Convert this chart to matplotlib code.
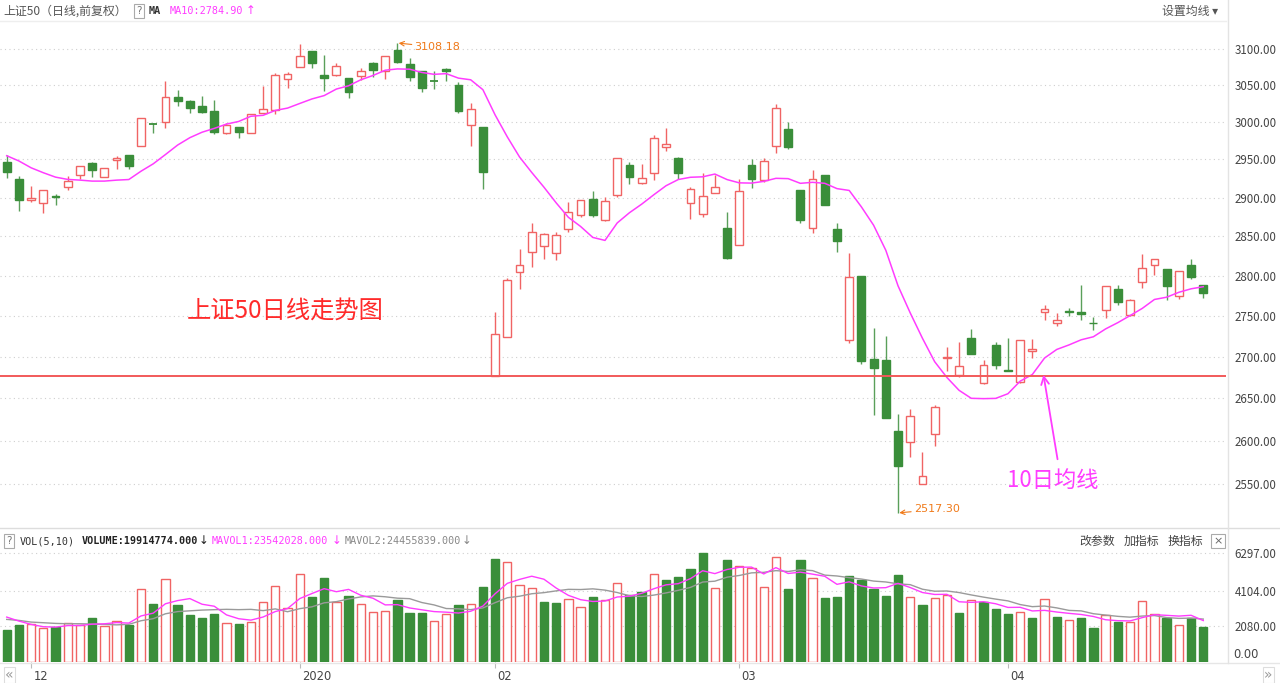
import matplotlib
matplotlib.use('Agg')
import matplotlib.pyplot as plt
import numpy as np
from matplotlib.lines import Line2D
from matplotlib.ticker import FixedLocator, NullLocator, FixedFormatter

plt.rcParams['font.family'] = ['Noto Sans CJK SC', 'DejaVu Sans']

# ---------------- data (SSE 50 daily, 2019-11-28 .. 2020-04-24) ----------------
opens = [2946.0, 2923.7, 2896.2, 2892.3, 2902.6, 2913.2, 2929.0, 2944.7, 2926.3, 2948.7,
         2955.3, 2968.4, 2998.0, 3000.0, 3033.3, 3027.8, 3022.2, 3015.3, 2985.5, 2993.4,
         2985.5, 3012.5, 3016.7, 3058.1, 3075.7, 3097.3, 3063.5, 3063.9, 3059.5, 3062.2,
         3081.1, 3068.9, 3098.6, 3079.7, 3069.3, 3056.1, 3071.6, 3050.4, 2996.0, 2993.8,
         2676.6, 2724.3, 2804.2, 2830.4, 2837.6, 2828.2, 2859.9, 2877.3, 2898.7, 2871.0,
         2903.0, 2942.1, 2918.4, 2932.5, 2967.1, 2951.3, 2892.3, 2878.2, 2905.3, 2861.2,
         2838.5, 2942.1, 2922.4, 2968.4, 2990.4, 2909.6, 2861.2, 2929.0, 2859.9, 2719.8,
         2800.1, 2697.6, 2696.4, 2611.9, 2598.5, 2549.7, 2608.0, 2698.8, 2677.4, 2722.9,
         2667.9, 2714.6, 2684.5, 2669.0, 2707.5, 2755.2, 2741.8, 2756.2, 2755.2, 2741.5,
         2757.5, 2783.8, 2751.3, 2791.6, 2814.1, 2808.6, 2775.0, 2814.1, 2788.8]
highs = [2955.3, 2927.6, 2914.5, 2910.5, 2904.0, 2927.6, 2940.8, 2946.0, 2938.2, 2954.0,
         2955.3, 3005.6, 2998.6, 3055.4, 3043.0, 3030.5, 3034.7, 3029.2, 2998.7, 2993.4,
         3011.1, 3048.6, 3066.2, 3067.6, 3106.8, 3097.3, 3091.9, 3081.1, 3059.5, 3073.0,
         3082.4, 3090.5, 3108.18, 3087.8, 3069.3, 3069.3, 3073.0, 3054.1, 3026.4, 2993.8,
         2755.2, 2797.1, 2834.2, 2867.6, 2854.7, 2856.0, 2894.5, 2896.5, 2908.3, 2900.4,
         2951.3, 2946.0, 2943.4, 2982.0, 2991.7, 2953.0, 2913.6, 2931.6, 2929.0, 2881.2,
         2923.7, 2950.0, 2951.3, 3024.6, 2999.6, 2909.6, 2935.5, 2929.0, 2867.6, 2828.2,
         2800.1, 2735.0, 2725.6, 2630.9, 2636.9, 2586.4, 2642.0, 2711.6, 2717.4, 2734.2,
         2696.4, 2717.4, 2722.9, 2720.8, 2721.6, 2762.9, 2754.0, 2760.0, 2787.9, 2749.1,
         2786.6, 2788.8, 2770.9, 2826.9, 2820.5, 2808.6, 2805.5, 2821.3, 2788.8]
lows = [2925.0, 2882.0, 2893.6, 2879.5, 2889.7, 2909.2, 2923.7, 2926.3, 2926.3, 2936.8,
        2936.8, 2968.4, 2985.5, 2992.1, 3022.2, 3012.5, 3012.5, 2984.2, 2984.2, 2979.0,
        2985.5, 3012.5, 3011.1, 3045.8, 3075.7, 3074.3, 3041.7, 3062.2, 3031.9, 3056.7,
        3060.8, 3058.1, 3081.1, 3055.4, 3040.7, 3044.4, 3055.4, 3012.5, 2967.5, 2911.8,
        2676.6, 2724.3, 2783.4, 2811.1, 2821.3, 2819.5, 2855.5, 2874.7, 2874.4, 2869.6,
        2900.4, 2917.1, 2917.1, 2922.8, 2961.0, 2923.7, 2872.7, 2875.2, 2905.3, 2820.5,
        2838.5, 2912.7, 2920.7, 2958.8, 2964.1, 2867.6, 2854.7, 2889.7, 2830.4, 2717.0,
        2691.7, 2629.8, 2627.0, 2517.3, 2581.0, 2549.7, 2594.2, 2683.3, 2675.8, 2703.7,
        2666.7, 2685.3, 2682.5, 2667.9, 2698.4, 2745.1, 2737.8, 2750.0, 2745.1, 2732.9,
        2747.2, 2763.8, 2750.0, 2784.6, 2801.3, 2770.0, 2770.9, 2795.8, 2772.3]
closes = [2932.9, 2896.2, 2900.0, 2910.5, 2901.3, 2921.0, 2940.8, 2935.5, 2938.2, 2951.3,
          2940.8, 3005.6, 2997.4, 3033.3, 3027.8, 3019.4, 3013.9, 2986.8, 2996.0, 2986.8,
          3011.1, 3018.1, 3063.5, 3064.9, 3090.5, 3081.1, 3059.5, 3076.1, 3040.7, 3068.9,
          3070.3, 3090.5, 3081.5, 3060.8, 3045.8, 3055.4, 3068.9, 3014.3, 3018.1, 2933.3,
          2727.7, 2795.0, 2814.1, 2856.0, 2852.6, 2851.3, 2881.7, 2896.5, 2877.3, 2895.3,
          2951.3, 2926.7, 2925.0, 2978.9, 2970.3, 2932.5, 2911.4, 2902.6, 2913.6, 2822.6,
          2908.3, 2923.7, 2947.4, 3019.0, 2966.2, 2871.0, 2924.6, 2889.7, 2844.0, 2798.8,
          2694.4, 2686.5, 2627.0, 2571.0, 2628.9, 2559.7, 2640.1, 2700.0, 2689.3, 2703.7,
          2690.5, 2689.5, 2682.5, 2720.8, 2709.4, 2758.4, 2744.3, 2755.0, 2752.0, 2740.7,
          2786.6, 2766.6, 2769.1, 2809.9, 2820.5, 2786.6, 2805.5, 2798.4, 2778.4]
# volume in units of 10k lots
volumes = [1824, 2112, 2170, 1939, 2016, 2266, 2131, 2554, 2054, 2362,
           2131, 4186, 3360, 4762, 3283, 2707, 2554, 2784, 2266, 2170,
           2304, 3456, 4358, 3130, 5050, 3763, 4858, 3475, 3802, 3360,
           2899, 2938, 3552, 2842, 2827, 2385, 2769, 3308, 3346, 4327,
           5942, 5769, 4442, 4269, 3461, 3404, 3654, 3192, 3750, 3596,
           4558, 3885, 4019, 5077, 4723, 4896, 5338, 6297, 4243, 5914,
           5530, 5395, 4320, 6067, 4224, 5914, 4819, 3706, 3744, 4954,
           4723, 4224, 3802, 4992, 3744, 3283, 3667, 3840, 2842, 3571,
           3475, 3072, 2784, 2880, 2515, 3648, 2592, 2400, 2554, 1939,
           2707, 2323, 2323, 3514, 2784, 2515, 2112, 2554, 1991]
first_vol_up = False
# moving-average values at the start of the window (earlier days are off-chart)
ma10_head = [2955.0, 2948.0, 2939.0, 2932.5, 2926.7, 2923.7, 2922.8, 2921.5, 2921.5]
mavol5_head = [2592, 2362, 2170, 2035]
mavol10_head = [2458, 2400, 2304, 2266, 2227, 2208, 2208, 2189, 2170]

month_labels = ['12', '2020', '02', '03', '04']
month_start_idx = [2, 24, 40, 60, 82]
price_ticks = [2550, 2600, 2650, 2700, 2750, 2800, 2850, 2900, 2950, 3000, 3050, 3100]
vol_ticks = [2080, 4104, 6297]
support_level = 2676.6
high_idx, low_idx = 32, 73

# ---------------- styles ----------------
RED = '#f06464'
GREEN = '#3a8e3a'
GREEN_WICK = '#5a9f5a'
MAG = '#ff3cff'
GRAY_MA = '#9a9a9a'
W, H = 1280, 683

def fx(x):
    return x / W

def fy(y):
    return 1 - y / H

n = len(closes)
idx = np.arange(n)
o = np.array(opens); c = np.array(closes); hi = np.array(highs); lo = np.array(lows)
v = np.array(volumes, dtype=float)

def rolling(arr, k, head):
    out = np.empty(len(arr))
    out[:len(head)] = head
    for i in range(len(head), len(arr)):
        out[i] = arr[i - k + 1:i + 1].mean()
    return out

ma10 = rolling(c, 10, ma10_head)
mavol5 = rolling(v, 5, mavol5_head)
mavol10 = rolling(v, 10, mavol10_head)

up = c >= o
vol_up = np.concatenate([[first_vol_up], c[1:] >= c[:-1]])

fig = plt.figure(figsize=(12.8, 6.83), dpi=100)
fig.patch.set_facecolor('white')

dx = 12.21
x0 = 6.7
right_px = 1226
xl = (-x0 / dx, (right_px - x0) / dx)

# ---------------- price panel ----------------
ax = fig.add_axes([0, fy(527), right_px / W, (527 - 22) / H])
ax.set_yscale('log')
ax.set_xlim(*xl)
ax.set_ylim(2501.3, 3137.8)
for s in ax.spines.values():
    s.set_visible(False)
ax.yaxis.set_major_locator(FixedLocator(price_ticks))
ax.yaxis.set_minor_locator(NullLocator())
ax.yaxis.set_major_formatter(FixedFormatter(['%.2f' % t for t in price_ticks]))
ax.yaxis.tick_right()
ax.tick_params(axis='y', length=0, pad=6, labelsize=8.3, labelcolor='#444444')
ax.set_xticks([])
ax.grid(axis='y', linestyle=(0, (1, 3)), color='#cfcfcf', lw=0.8)
ax.set_axisbelow(True)

bw = 0.64
for i in range(n):
    col = RED if up[i] else GREEN
    ax.vlines(i, lo[i], hi[i], color=RED if up[i] else GREEN_WICK, lw=1.0, zorder=2)
    b0, b1 = min(o[i], c[i]), max(o[i], c[i])
    if b1 - b0 < 0.8:
        ax.hlines((b0 + b1) / 2, i - bw / 2, i + bw / 2, color=col, lw=1.3, zorder=3)
    else:
        ax.bar(i, b1 - b0, bottom=b0, width=bw,
               facecolor='white' if up[i] else GREEN,
               edgecolor=col, lw=1.0, zorder=3)

ax.plot(idx, ma10, color=MAG, lw=1.1, zorder=4)
ax.axhline(support_level, color='#f25a5a', lw=1.4, zorder=5)

ax.annotate('%.2f' % hi[high_idx], xy=(high_idx + 0.1, hi[high_idx]),
            xytext=(high_idx + 1.4, hi[high_idx] * 0.9982),
            fontsize=8, color='#f07a1a', family='DejaVu Sans', va='center', ha='left',
            arrowprops=dict(arrowstyle='->', color='#f07a1a', lw=0.8, shrinkA=0, shrinkB=0))
ax.annotate('%.2f' % lo[low_idx], xy=(low_idx + 0.1, lo[low_idx]),
            xytext=(low_idx + 1.3, lo[low_idx] * 1.0015),
            fontsize=8, color='#f07a1a', family='DejaVu Sans', va='center', ha='left',
            arrowprops=dict(arrowstyle='->', color='#f07a1a', lw=0.8, shrinkA=0, shrinkB=0))

fig.text(fx(285), fy(311), '上证50日线走势图', color='#ff2a2a', fontsize=17.5,
         ha='center', va='center')
fig.text(fx(1053), fy(480), '10日均线', color=MAG, fontsize=16,
         ha='center', va='center')
fig.add_artist(matplotlib.patches.FancyArrowPatch(
    (fx(1058), fy(462)), (fx(1043), fy(372)), transform=fig.transFigure,
    arrowstyle='->', mutation_scale=14, color=MAG, lw=1.3))

# ---------------- volume panel ----------------
axv = fig.add_axes([0, fy(662), right_px / W, (662 - 530) / H])
axv.set_xlim(*xl)
axv.set_ylim(0, 132 * 57.7)
for s in axv.spines.values():
    s.set_visible(False)
axv.yaxis.set_major_locator(FixedLocator(vol_ticks))
axv.yaxis.set_major_formatter(FixedFormatter(['%.2f' % t for t in vol_ticks]))
axv.yaxis.tick_right()
axv.tick_params(axis='y', length=0, pad=6, labelsize=8.3, labelcolor='#444444')
axv.grid(axis='y', linestyle=(0, (1, 3)), color='#cfcfcf', lw=0.8)
axv.set_axisbelow(True)
vb = 0.68
for i in range(n):
    if vol_up[i]:
        axv.bar(i, v[i], width=vb, facecolor='white', edgecolor=RED, lw=1.0, zorder=2)
    else:
        axv.bar(i, v[i], width=vb, facecolor=GREEN, edgecolor=GREEN, lw=1.0, zorder=2)
axv.plot(idx, mavol10, color=GRAY_MA, lw=1.0, zorder=3)
axv.plot(idx, mavol5, color=MAG, lw=1.0, zorder=4)
axv.set_xticks(month_start_idx)
axv.set_xticklabels([])
axv.tick_params(axis='x', length=4, color='#bbbbbb', width=0.8)
for m, lab in zip(month_start_idx, month_labels):
    axv.text(m + 0.18, -0.06, lab, transform=axv.get_xaxis_transform(),
             ha='left', va='top', fontsize=8.3, color='#444444', family='DejaVu Sans')
fig.text(fx(1233), fy(655), '0.00', fontsize=8.3, color='#444444', va='center',
         ha='left', family='DejaVu Sans')

# ---------------- frame lines ----------------
fig.add_artist(Line2D([0, fx(1226)], [fy(21), fy(21)], color='#eeeeee', lw=1))
fig.add_artist(Line2D([0, 1], [fy(528), fy(528)], color='#dddddd', lw=1))
fig.add_artist(Line2D([0, 1], [fy(663), fy(663)], color='#e6e6e6', lw=1))
fig.add_artist(Line2D([fx(1228), fx(1228)], [fy(0), fy(663)], color='#e3e3e3', lw=1))

# ---------------- header texts ----------------
hy = fy(11)
fig.text(fx(3), hy, '上证50（日线,前复权）', fontsize=8.6, color='#555555', va='center')
box = dict(boxstyle='square,pad=0.2', fc='white', ec='#aaaaaa', lw=0.8)
fig.text(fx(136), hy, '?', fontsize=7.5, color='#777777', va='center', bbox=box,
         family='DejaVu Sans')
fig.text(fx(149), hy, 'MA', fontsize=7.3, color='#333333', va='center',
         family='DejaVu Sans Mono', weight='bold')
fig.text(fx(170), hy, 'MA10:2784.90', fontsize=7.3, color=MAG, va='center',
         family='DejaVu Sans Mono')
fig.text(fx(246), hy, '↑', fontsize=8.5, color=MAG, va='center', family='DejaVu Sans')
fig.text(fx(1218), hy, '设置均线 ▾', fontsize=8.6, color='#555555', va='center', ha='right')

vy = fy(541)
fig.text(fx(6), vy, '?', fontsize=7.5, color='#777777', va='center', bbox=box,
         family='DejaVu Sans')
fig.text(fx(20), vy, 'VOL(5,10)', fontsize=7.3, color='#333333', va='center',
         family='DejaVu Sans Mono')
fig.text(fx(82), vy, 'VOLUME:19914774.000', fontsize=7.3, color='#222222', va='center',
         family='DejaVu Sans Mono', weight='bold')
fig.text(fx(199), vy, '↓', fontsize=8.5, color='#222222', va='center', family='DejaVu Sans')
fig.text(fx(212), vy, 'MAVOL1:23542028.000', fontsize=7.3, color=MAG, va='center',
         family='DejaVu Sans Mono')
fig.text(fx(332), vy, '↓', fontsize=8.5, color=MAG, va='center', family='DejaVu Sans')
fig.text(fx(345), vy, 'MAVOL2:24455839.000', fontsize=7.3, color='#888888', va='center',
         family='DejaVu Sans Mono')
fig.text(fx(462), vy, '↓', fontsize=8.5, color='#888888', va='center', family='DejaVu Sans')
fig.text(fx(1079), vy, '改参数', fontsize=8.6, color='#444444', va='center')
fig.text(fx(1124), vy, '加指标', fontsize=8.6, color='#444444', va='center')
fig.text(fx(1168), vy, '换指标', fontsize=8.6, color='#444444', va='center')
fig.text(fx(1213), vy, '×', fontsize=8, color='#666666', va='center', bbox=box,
         family='DejaVu Sans')

fig.text(fx(5), fy(675), '«', fontsize=10, color='#999999', va='center',
         bbox=dict(boxstyle='square,pad=0.1', fc='white', ec='#dddddd', lw=0.8),
         family='DejaVu Sans')
fig.text(fx(1264), fy(675), '»', fontsize=10, color='#999999', va='center',
         bbox=dict(boxstyle='square,pad=0.1', fc='white', ec='#dddddd', lw=0.8),
         family='DejaVu Sans')

fig.savefig('out.png', dpi=100, facecolor='white')
